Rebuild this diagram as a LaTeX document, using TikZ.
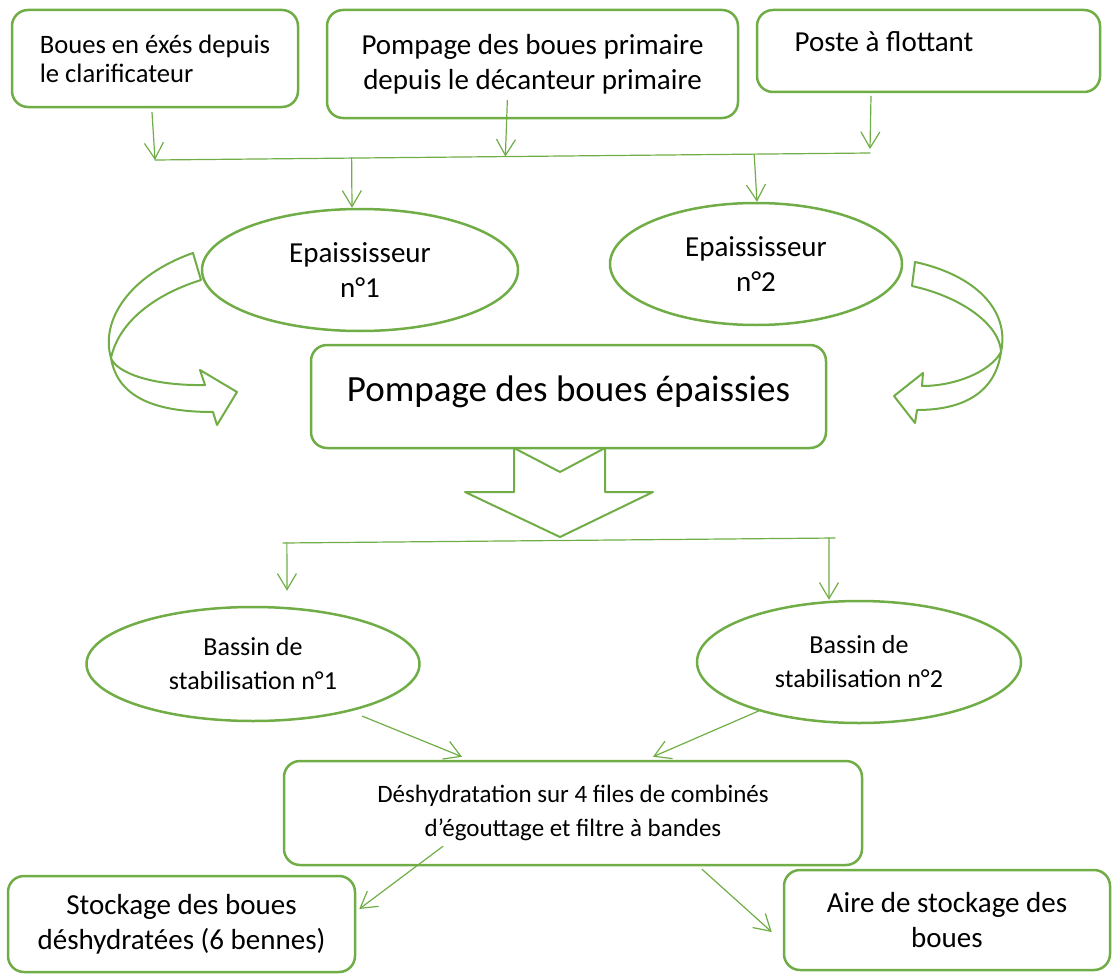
\documentclass[tikz,border=0pt]{standalone}
\usepackage{fontspec}
\setmainfont{Carlito}
\usetikzlibrary{calc, arrows.meta, shapes.geometric}
\definecolor{vert}{HTML}{70AD47}

\begin{document}
\begin{tikzpicture}[x=1pt, y=-1pt, line cap=round, line join=round,
  boite/.style={draw=vert, line width=2.5pt, rounded corners=16pt, inner sep=0pt, align=center},
  bulle/.style={draw=vert, line width=2.5pt, ellipse, inner sep=0pt, align=center},
  trait/.style={draw=vert, line width=1.2pt},
  fil/.style={trait, -{Straight Barb[length=16pt, width=19pt]}},
  bloc/.style={draw=vert, line width=2pt},
  txtA/.style={font=\fontsize{26.6pt}{29pt}\selectfont},
  txtB/.style={font=\fontsize{29pt}{35pt}\selectfont},
  txtC/.style={font=\fontsize{37pt}{44pt}\selectfont},
  txtD/.style={font=\fontsize{26pt}{34pt}\selectfont},
  txtE/.style={font=\fontsize{25pt}{34pt}\selectfont}]
  \useasboundingbox (0,0) rectangle (1117,974);

  % boites du haut
  \node[boite, txtA, align=left, minimum width=286pt, minimum height=97pt] (boues) at (155,58.5) {Boues en éxés depuis\\le clarificateur};
  \node[boite, txtB, minimum width=411pt, minimum height=108pt] (pompI) at (532.5,64) {Pompage des boues primaire\\depuis le décanteur primaire};
  \node[boite, minimum width=343pt, minimum height=82pt] (flot) at (928.5,51) {};
  \node[txtB, inner sep=0pt] (flot-txt) at (884,42) {Poste à flottant};

  % epaississeurs
  \node[bulle, txtB, minimum width=316pt, minimum height=122pt] (ep1) at (360,270) {Epaississeur\\n°1};
  \node[bulle, txtB, minimum width=292pt, minimum height=122pt] (ep2) at (756,264) {Epaississeur\\n°2};
  \node[boite, txtC, text height=27pt, text depth=18pt, minimum width=515pt, minimum height=103pt] (pompE) at (568.5,396.5) {Pompage des boues épaissies};

  % stabilisation et deshydratation
  \node[bulle, txtD, minimum width=333pt, minimum height=114pt] (bas1) at (253,664) {Bassin de\\stabilisation n°1};
  \node[bulle, txtD, minimum width=324pt, minimum height=122pt] (bas2) at (859,662) {Bassin de\\stabilisation n°2};
  \node[boite, txtE, minimum width=578pt, minimum height=104pt] (desh) at (573,813) {Déshydratation sur 4 files de combinés\\d’égouttage et filtre à bandes};
  \node[boite, txtB, minimum width=347pt, minimum height=96pt] (stock) at (181.5,924) {Stockage des boues\\déshydratées (6 bennes)};
  \node[boite, txtB, minimum width=326pt, minimum height=100pt] (aire) at (947,920) {Aire de stockage des\\boues};

  % collecteur du haut
  \coordinate (g1) at (155,160);
  \coordinate (d1) at (870,153);
  \coordinate (j2) at ($(g1)!0.49!(d1)$);
  \draw[trait] (g1) -- (d1);
  \draw[fil] ([xshift=-3pt, yshift=-4pt]boues.south) -- (g1);
  \draw[fil] ($(j2|-pompI.south)+(2,-19)$) -- (j2);
  \draw[fil] ($(d1|-flot.south)+(1,3)$) -- ([yshift=4pt]d1);
  \draw[fil] ($(g1)!0.275!(d1)$) -- ([xshift=-8pt]ep1.north);
  \draw[fil] ($(g1)!0.838!(d1)$) -- ([xshift=1pt]ep2.north);

  % fleches courbes vers le pompage
  \draw[bloc] (193,253) .. controls (130,275) and (100,320) .. (111,358)
    .. controls (118,400) and (160,412) .. (213,412) -- (217,425) -- (237,392) -- (200,370) -- (205,385)
    .. controls (150,386) and (116,372) .. (111,358) .. controls (118,325) and (150,296) .. (201,280) -- cycle;
  \draw[bloc] (915,262) .. controls (975,275) and (1010,310) .. (1001,352)
    .. controls (995,395) and (960,410) .. (917,410) -- (915,423) -- (894,396) -- (923,373) -- (922,386)
    .. controls (955,386) and (990,372) .. (1001,352) .. controls (1000,325) and (962,297) .. (912,286) -- cycle;

  % grosse fleche vers le bas
  \draw[bloc] (514,448) -- (560,472) -- (605,448) -- (605,492) -- (653,492) -- (560,537) -- (465,492) -- (514,492) -- cycle;

  % collecteur du bas
  \coordinate (g2) at (283,543);
  \coordinate (d2) at (835,538);
  \draw[trait] (g2) -- (d2);
  \draw[fil] ($(g2)!0.007!(d2)$) -- ([xshift=34pt, yshift=15pt]bas1.north);
  \draw[fil] ($(g2)!0.989!(d2)$) -- ([xshift=-30pt]bas2.north);

  % vers la deshydratation puis le stockage
  \draw[fil] ([yshift=-8pt]bas1.-22) -- ([xshift=-111pt, yshift=3pt]desh.north);
  \draw[fil] (bas2.206) -- ([xshift=80pt, yshift=3pt]desh.north);
  \draw[fil] ([xshift=-130pt, yshift=20pt]desh.south) -- ([xshift=3pt, yshift=15pt]stock.east);
  \draw[fil] ([xshift=129pt, yshift=-3pt]desh.south) -- ([xshift=-11pt, yshift=-12pt]aire.west);
\end{tikzpicture}
\end{document}
